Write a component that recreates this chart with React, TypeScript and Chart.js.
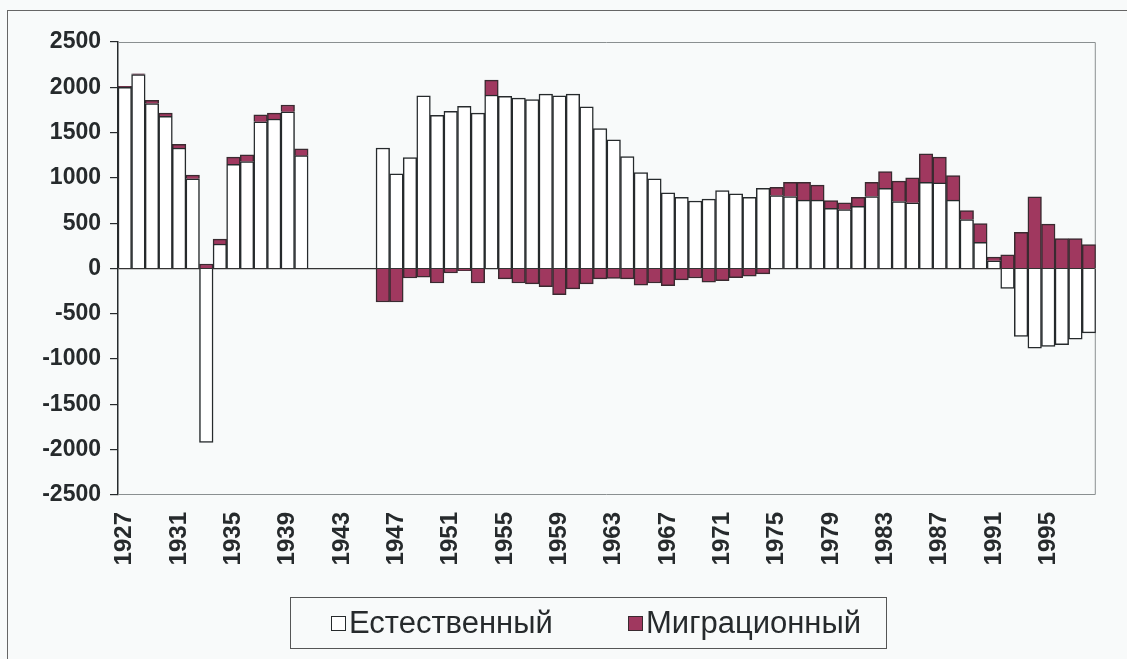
import React, { useEffect, useRef } from "react";
import { Chart, registerables } from "chart.js";

Chart.register(...registerables);

const years: string[] = [];
for (let y = 1927; y <= 1998; y++) years.push(String(y));

const shownYearLabels = ["1927", "1931", "1935", "1939", "1943", "1947", "1951", "1955", "1959", "1963", "1967", "1971", "1975", "1979", "1983", "1987", "1991", "1995"];

const natural: (number | null)[] = [
  2000, 2140, 1820, 1680, 1330, 990, -1920, 270, 1150, 1180, 1620, 1650, 1730, 1245,
  null, null, null, null, null,
  1330, 1045, 1225, 1905, 1690, 1735, 1790, 1715, 1915, 1900, 1880, 1865, 1925, 1905, 1925,
  1785, 1545, 1420, 1235, 1060, 990, 835, 785, 745, 765, 860, 825, 785, 885,
  805, 795, 755, 755, 665, 650, 685, 795, 885, 740, 725, 950, 945, 755, 540, 290, 85,
  -220, -750, -880, -860, -840, -780, -710,
];

const migration: (number | null)[] = [
  10, 10, 35, 35, 40, 40, 50, 55, 80, 75, 75, 65, 75, 75,
  null, null, null, null, null,
  -370, -370, -105, -95, -160, -50, -25, -160, 165, -115, -160, -170, -200, -290, -225,
  -170, -115, -110, -115, -185, -160, -190, -125, -105, -150, -135, -100, -85, -60,
  90, 155, 195, 165, 85, 75, 100, 155, 185, 225, 275, 315, 285, 270, 100, 205, 40,
  150, 400, 790, 490, 330, 330, 265,
];

const yTickValues = [2500, 2000, 1500, 1000, 500, 0, -500, -1000, -1500, -2000, -2500];

const seriesNames = ["Естественный", "Миграционный"];
const MAROON = "#a0385f";
const INK = "#262a2c";
const BG = "#f8fafa";
const FONT = "'Liberation Sans', Arial, sans-serif";

const frame = {
  id: "plotFrame",
  beforeDatasetsDraw(chart: any) {
    const { ctx, chartArea: a } = chart;
    ctx.save();
    ctx.strokeStyle = "#8a8f90";
    ctx.lineWidth = 1;
    ctx.beginPath();
    ctx.moveTo(a.left, a.top + 0.5);
    ctx.lineTo(a.right - 0.5, a.top + 0.5);
    ctx.lineTo(a.right - 0.5, a.bottom - 0.5);
    ctx.lineTo(a.left, a.bottom - 0.5);
    ctx.stroke();
    ctx.restore();
  },
};

export default function App() {
  const ref = useRef<HTMLCanvasElement>(null);
  useEffect(() => {
    if (!ref.current) return;
    const chart = new Chart(ref.current, {
      type: "bar",
      data: {
        labels: years,
        datasets: [
          {
            label: seriesNames[0],
            data: natural,
            backgroundColor: "#ffffff",
            borderColor: INK,
            borderWidth: 1.5,
            stack: "s",
            barPercentage: 1,
            categoryPercentage: 1,
          },
          {
            label: seriesNames[1],
            data: migration,
            backgroundColor: MAROON,
            borderColor: "#3a2a30",
            borderWidth: 1.5,
            stack: "s",
            barPercentage: 1,
            categoryPercentage: 1,
          },
        ],
      },
      options: {
        animation: false,
        responsive: false,
        devicePixelRatio: 1,
        layout: { padding: { left: 0, top: 42, right: 30, bottom: 0 } },
        plugins: { legend: { display: false }, tooltip: { enabled: false } },
        scales: {
          x: {
            stacked: true,
            grid: { display: false },
            border: { display: false },
            ticks: {
              autoSkip: false,
              maxRotation: 90,
              minRotation: 90,
              padding: 9,
              color: INK,
              font: { family: FONT, size: 24, weight: "bold" },
              callback: (_v: any, i: number) => (shownYearLabels.includes(years[i]) ? years[i] : ""),
            },
            afterFit: (s: any) => {
              s.height = 164;
            },
          },
          y: {
            stacked: true,
            min: -2500,
            max: 2500,
            afterBuildTicks: (s: any) => {
              s.ticks = yTickValues.map((v) => ({ value: v }));
            },
            grid: {
              color: (c: any) => (c.tick && c.tick.value === 0 ? "#333" : "transparent"),
              tickColor: INK,
              tickLength: 8,
              lineWidth: 1.2,
            },
            border: { color: INK, width: 1.5 },
            ticks: {
              padding: 9,
              color: INK,
              font: { family: FONT, size: 23, weight: "bold" },
              callback: (v: any) => String(v),
            },
            afterFit: (s: any) => {
              s.width = 118;
            },
          },
        },
      },
      plugins: [frame],
    });
    return () => chart.destroy();
  }, []);

  const sq = (bg: string, bd: string) => ({
    display: "inline-block",
    width: 13,
    height: 13,
    background: bg,
    border: `1.5px solid ${bd}`,
    marginRight: 3,
  });

  return (
    <div style={{ position: "fixed", left: 0, top: 0, width: 1127, height: 659, background: BG, overflow: "hidden" }}>
      <div style={{ position: "absolute", left: 7, top: 10, width: 1200, height: 700, borderLeft: "1px solid #666", borderTop: "1px solid #666" }} />
      <canvas ref={ref} width={1127} height={659} style={{ position: "absolute", left: 0, top: 0 }} />
      <div
        style={{
          position: "absolute",
          left: 290,
          top: 597,
          width: 597,
          height: 52,
          border: "1px solid #555",
          boxSizing: "border-box",
          fontFamily: FONT,
          fontSize: 31,
          color: INK,
        }}
      >
        <span style={{ position: "absolute", left: 40, top: 7, display: "flex", alignItems: "center", whiteSpace: "nowrap" }}>
          <span style={sq("#ffffff", INK)} />
          {seriesNames[0]}
        </span>
        <span style={{ position: "absolute", left: 337, top: 7, display: "flex", alignItems: "center", whiteSpace: "nowrap" }}>
          <span style={sq(MAROON, "#3a2a30")} />
          {seriesNames[1]}
        </span>
      </div>
    </div>
  );
}
